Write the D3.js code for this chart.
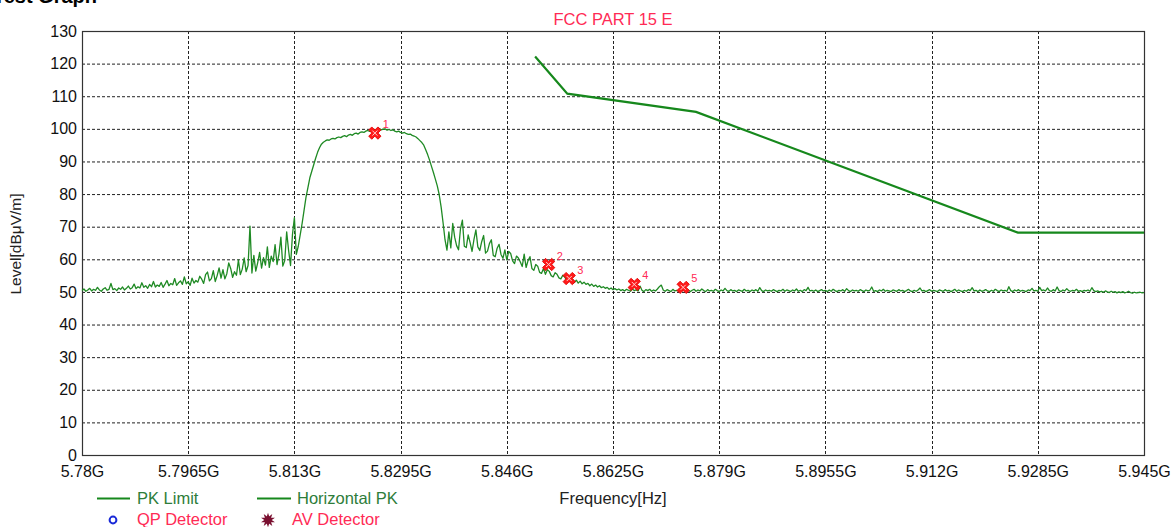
<!DOCTYPE html>
<html>
<head>
<meta charset="utf-8">
<script src="https://cdn.jsdelivr.net/npm/d3@7"></script>
<style>
html, body { margin: 0; padding: 0; background: #ffffff; }
svg { display: block; font-family: "Liberation Sans", Arial, sans-serif; }
</style>
</head>
<body>
<svg id="chart" width="1173" height="527"></svg>
<script>
// ---------- data ----------
const xTickValues = [5.78, 5.7965, 5.813, 5.8295, 5.846, 5.8625, 5.879, 5.8955, 5.912, 5.9285, 5.945];
const xTickLabels = ["5.78G", "5.7965G", "5.813G", "5.8295G", "5.846G", "5.8625G", "5.879G", "5.8955G", "5.912G", "5.9285G", "5.945G"];
const yTickValues = [0, 10, 20, 30, 40, 50, 60, 70, 80, 90, 100, 110, 120, 130];

const limitFreq  = [5.8504, 5.8554, 5.8754, 5.9254, 5.945];
const limitLevel = [122.2, 110.8, 105.2, 68.2, 68.2];

const markerIds   = ["1", "2", "3", "4", "5"];
const markerFreq  = [5.8255, 5.8525, 5.8557, 5.8658, 5.8734];
const markerLevel = [98.7, 58.4, 54.1, 52.3, 51.4];

const traceStart = 5.78;
const traceStop  = 5.945;
const traceLevel = [
  50.4, 50.9, 50.2, 50.6, 51.1, 50.3, 50.8, 50.5, 51.4, 50.6,
  50.2, 50.9, 51.3, 50.5, 50.8, 52.6, 50.7, 51.0, 50.4, 51.2,
  50.8, 51.5, 50.6, 51.1, 51.8, 50.9, 51.3, 52.4, 51.0, 51.6,
  51.2, 52.8, 51.4, 51.9, 51.1, 52.3, 51.6, 53.2, 51.5, 52.1,
  51.7, 52.9, 51.4, 52.4, 53.5, 51.9, 52.6, 52.2, 54.1, 52.0,
  52.8, 53.4, 52.3, 54.6, 52.5, 53.1, 52.0, 54.2, 52.7, 53.5,
  53.0, 54.8, 53.9, 52.6, 55.3, 56.1, 53.4, 54.1, 56.5, 53.2,
  55.0, 57.4, 54.2, 56.8, 54.0, 55.6, 58.9, 57.2, 54.5, 56.2,
  55.1, 59.8, 55.3, 57.0, 60.4, 56.2, 58.1, 70.2, 55.8, 61.2,
  56.4, 59.0, 62.1, 57.3, 60.5, 58.2, 63.8, 57.5, 61.0, 59.3,
  64.5, 58.4, 61.6, 66.8, 57.9, 59.6, 68.4, 62.7, 58.1, 67.6,
  72.8, 61.5,
  64.0, 67.5, 71.0, 75.0, 79.0, 82.0, 85.0, 87.0, 89.0, 91.0, 92.8, 94.2, 95.3, 95.9,
  96.3, 96.6, 96.5, 96.9, 97.1, 96.9, 97.3, 97.5, 97.3, 97.7,
  97.9, 97.6, 98.1, 98.3, 98.0, 98.5, 98.7, 98.4, 98.9, 99.1,
  98.9, 99.3, 99.5, 99.2, 99.6, 99.8, 99.5, 99.9, 100.1, 99.7,
  99.9, 100.0, 99.6, 99.8, 99.5, 99.7, 99.3, 99.1, 99.3, 98.9,
  98.7, 98.9, 98.5, 98.3, 98.4, 98.0, 97.8, 97.5,
  97.0, 96.4, 95.8, 95.0, 93.6, 92.1, 90.4, 88.5, 86.6, 84.6, 82.5, 79.8, 76.0, 71.2, 66.0, 62.8,
  68.4, 63.5, 71.0, 66.8, 64.2, 62.9, 69.3, 72.0, 64.0, 63.6,
  67.5, 65.1, 62.4, 66.1, 69.0, 63.8, 62.7, 65.4, 67.3, 61.9,
  62.5, 64.8, 66.0, 61.2, 60.8, 63.4, 64.6, 61.5, 60.3, 62.9,
  59.8, 62.4, 61.8, 59.5, 58.7, 61.0, 60.4, 59.2, 57.8, 61.6,
  57.5, 59.6, 60.8, 57.2, 56.6, 58.4, 57.9, 56.0, 55.7, 57.2,
  55.4, 56.8, 56.3, 55.0, 54.6, 55.9, 55.4, 54.3, 54.0, 55.1,
  54.6, 53.5, 54.3, 53.2, 53.9, 52.9, 53.6, 52.7, 53.3, 52.5,
  53.0, 52.3, 52.6, 51.9, 52.4, 51.7, 52.1, 51.5, 51.9, 51.3,
  51.6, 51.1, 51.4, 50.8, 51.2, 50.7, 51.0, 50.6,
  50.9, 50.4, 50.7, 50.3, 50.8, 50.5, 50.2, 50.9, 50.4, 50.6,
  50.3, 51.8, 50.5, 50.1, 50.7, 50.4, 50.8, 50.2, 50.6, 50.3,
  50.9, 51.6, 52.1, 50.6, 50.2, 50.7, 50.4, 50.1, 50.8, 50.3,
  50.5, 50.2, 50.7, 50.4, 51.2, 50.3, 50.6, 50.1, 50.5, 50.8,
  50.2, 50.6, 50.3, 50.9, 50.4, 50.1, 50.7, 50.3, 50.5, 50.2,
  50.8, 50.4, 50.1, 50.6, 50.3, 51.1, 50.4, 50.2, 50.7, 50.3,
  50.5, 50.1, 50.6, 50.4, 50.2, 50.8, 50.3, 50.5, 50.1, 50.6,
  50.3, 50.7, 50.2, 51.3, 50.4, 50.1, 50.6, 50.3, 50.5, 50.2,
  50.7, 50.4, 50.1, 50.5, 50.3, 50.8, 50.2, 50.6, 50.4, 50.1,
  50.6, 50.3, 50.9, 50.2, 50.5, 50.1, 50.7, 50.4, 51.4, 50.3,
  50.5, 50.2, 50.6, 50.1, 50.4, 50.7, 50.3, 50.5, 50.1, 50.6,
  50.2, 50.8, 50.4, 50.1, 50.5, 50.3, 50.7, 50.2, 51.0, 50.4,
  50.1, 50.6, 50.3, 50.5, 50.2, 50.7, 50.4, 50.1, 50.6, 50.3,
  50.5, 51.5, 50.2, 50.4, 50.1, 50.6, 50.3, 50.8, 50.2, 50.5,
  50.3, 50.1, 50.6, 50.4, 50.2, 50.7, 50.3, 50.5, 50.1, 50.4,
  50.8, 50.3, 50.1, 50.5, 50.2, 50.6, 51.2, 50.3, 50.5, 50.1,
  50.4, 50.7, 50.2, 50.5, 50.3, 50.1, 50.6, 50.4, 50.2, 50.7,
  50.3, 50.5, 50.1, 50.4, 50.8, 50.2, 50.6, 50.3, 50.1, 50.5,
  50.2, 50.7, 50.4, 51.3, 50.3, 50.5, 50.1, 50.6, 50.2, 50.4,
  50.7, 50.3, 50.1, 50.5, 50.2, 50.8, 50.4, 50.1, 50.6, 50.3,
  50.5, 50.2, 51.6, 50.4, 50.1, 50.6, 50.3, 50.7, 50.2, 50.5,
  50.3, 50.1, 50.6, 50.4, 51.1, 50.3, 50.5, 50.2, 51.4, 50.4,
  50.6, 50.3, 51.2, 50.4, 50.2, 50.7, 50.3, 51.5, 50.4, 50.1,
  50.6, 50.3, 51.0, 50.4, 50.2, 50.5, 50.3, 50.8, 50.2, 50.4,
  50.1, 50.5, 50.3, 50.6, 50.2, 51.3, 50.4, 50.1, 50.3, 50.0,
  50.2, 49.9, 50.3, 50.0, 49.8, 50.2, 49.9, 50.1, 49.7, 50.0,
  49.8, 50.1, 49.7, 49.9, 50.2, 49.8, 49.6, 49.9, 49.7, 49.8,
  49.9, 49.7, 49.8
];

// ---------- layout ----------
const margin = { left: 82, right: 1144, top: 31, bottom: 455 };
const svg = d3.select("#chart");
svg.append("rect").attr("width", 1173).attr("height", 527).attr("fill", "#ffffff");

const x = d3.scaleLinear().domain([5.78, 5.945]).range([margin.left, margin.right]);
const y = d3.scaleLinear().domain([0, 130]).range([margin.bottom, margin.top]);

const traceColor = "#1f8a24";
const limitColor = "#16881c";
const redText = "#ff2a55";
const fontFam = "'Liberation Sans', Arial, sans-serif";

// grid
const grid = svg.append("g");
grid.selectAll("line.h").data(yTickValues.filter(v => v > 0 && v < 130)).enter()
  .append("line")
  .attr("x1", margin.left).attr("x2", margin.right)
  .attr("y1", d => y(d) + 0.5).attr("y2", d => y(d) + 0.5)
  .attr("stroke", "#222").attr("stroke-width", 1).attr("stroke-dasharray", "3,2");
grid.selectAll("line.v").data(xTickValues.slice(1, -1)).enter()
  .append("line")
  .attr("x1", d => Math.round(x(d)) + 0.5).attr("x2", d => Math.round(x(d)) + 0.5)
  .attr("y1", margin.top).attr("y2", margin.bottom)
  .attr("stroke", "#222").attr("stroke-width", 1).attr("stroke-dasharray", "3,2");

// axes (labels only, frame drawn separately)
const yAxis = d3.axisLeft(y).tickValues(yTickValues).tickSize(0).tickPadding(5);
const gy = svg.append("g").attr("transform", `translate(${margin.left},0)`).call(yAxis);
gy.select(".domain").remove();
gy.selectAll("text").attr("font-size", 16).attr("fill", "#111").attr("font-family", fontFam);

const xAxis = d3.axisBottom(x).tickValues(xTickValues).tickSize(0).tickPadding(11)
  .tickFormat((d, i) => xTickLabels[i]);
const gx = svg.append("g").attr("transform", `translate(0,${margin.bottom})`).call(xAxis);
gx.select(".domain").remove();
gx.selectAll("text").attr("font-size", 16).attr("fill", "#111").attr("font-family", fontFam);

// frame
svg.append("rect")
  .attr("x", margin.left + 0.5).attr("y", margin.top + 0.5)
  .attr("width", margin.right - margin.left).attr("height", margin.bottom - margin.top)
  .attr("fill", "none").attr("stroke", "#333").attr("stroke-width", 1.2);

// trace
const step = (traceStop - traceStart) / (traceLevel.length - 1);
const traceLine = d3.line()
  .x((d, i) => x(traceStart + i * step))
  .y(d => y(d));
svg.append("path").datum(traceLevel)
  .attr("d", traceLine)
  .attr("fill", "none").attr("stroke", traceColor).attr("stroke-width", 1.3)
  .attr("stroke-linejoin", "round");

// limit
const limitLine = d3.line().x((d, i) => x(limitFreq[i])).y(d => y(d));
svg.append("path").datum(limitLevel)
  .attr("d", limitLine)
  .attr("fill", "none").attr("stroke", limitColor).attr("stroke-width", 2.2);

// markers
const mk = svg.append("g");
markerIds.forEach((id, i) => {
  const cx = x(markerFreq[i]), cy = y(markerLevel[i]);
  const g = mk.append("g").attr("transform", `translate(${cx},${cy})`);
  g.append("path").attr("d", d3.symbol().type(d3.symbolCross).size(95)())
    .attr("transform", "rotate(45)")
    .attr("fill", "#ff1a1a").attr("stroke", "#e00000").attr("stroke-width", 0.8);
  g.append("path").attr("d", "M-2.5,-2.5L2.5,2.5M-2.5,2.5L2.5,-2.5")
    .attr("stroke", "#ffd0d0").attr("stroke-width", 1);
  svg.append("text").attr("x", cx + 8).attr("y", cy - 5)
    .attr("font-size", 11).attr("fill", redText).text(id);
});

// title
svg.append("text").attr("x", (margin.left + margin.right) / 2).attr("y", 25)
  .attr("text-anchor", "middle").attr("font-size", 16.5).attr("fill", redText)
  .text("FCC PART 15 E");

// top-left cut-off heading
svg.append("text").attr("x", 97).attr("y", 3)
  .attr("text-anchor", "end").attr("font-size", 20).attr("font-weight", "bold")
  .attr("fill", "#000").text("Test Graph");

// axis titles
svg.append("text").attr("transform", "translate(21,244) rotate(-90)")
  .attr("text-anchor", "middle").attr("font-size", 15.5).attr("fill", "#222")
  .text("Level[dBμV/m]");
svg.append("text").attr("x", 613).attr("y", 504)
  .attr("text-anchor", "middle").attr("font-size", 16.5).attr("fill", "#222")
  .text("Frequency[Hz]");

// legend
const legendGreen = "#2e7d3a";
const lg = svg.append("g");
lg.append("line").attr("x1", 97).attr("x2", 130).attr("y1", 498.5).attr("y2", 498.5)
  .attr("stroke", limitColor).attr("stroke-width", 2);
lg.append("text").attr("x", 137).attr("y", 504).attr("font-size", 16.5).attr("fill", legendGreen).text("PK Limit");
lg.append("line").attr("x1", 257).attr("x2", 291).attr("y1", 498.5).attr("y2", 498.5)
  .attr("stroke", limitColor).attr("stroke-width", 2);
lg.append("text").attr("x", 297).attr("y", 504).attr("font-size", 16.5).attr("fill", legendGreen).text("Horizontal PK");
lg.append("circle").attr("cx", 113).attr("cy", 520).attr("r", 3.4)
  .attr("fill", "none").attr("stroke", "#1a2ad8").attr("stroke-width", 2);
lg.append("text").attr("x", 137).attr("y", 525).attr("font-size", 16.5).attr("fill", redText).text("QP Detector");
lg.append("path").attr("d", d3.symbol().type(d3.symbolStar).size(60)())
  .attr("transform", "translate(268,520)").attr("fill", "#7a1030");
lg.append("path").attr("d", d3.symbol().type(d3.symbolStar).size(60)())
  .attr("transform", "translate(268,520) rotate(36)").attr("fill", "#7a1030");
lg.append("text").attr("x", 292).attr("y", 525).attr("font-size", 16.5).attr("fill", redText).text("AV Detector");
</script>
</body>
</html>
